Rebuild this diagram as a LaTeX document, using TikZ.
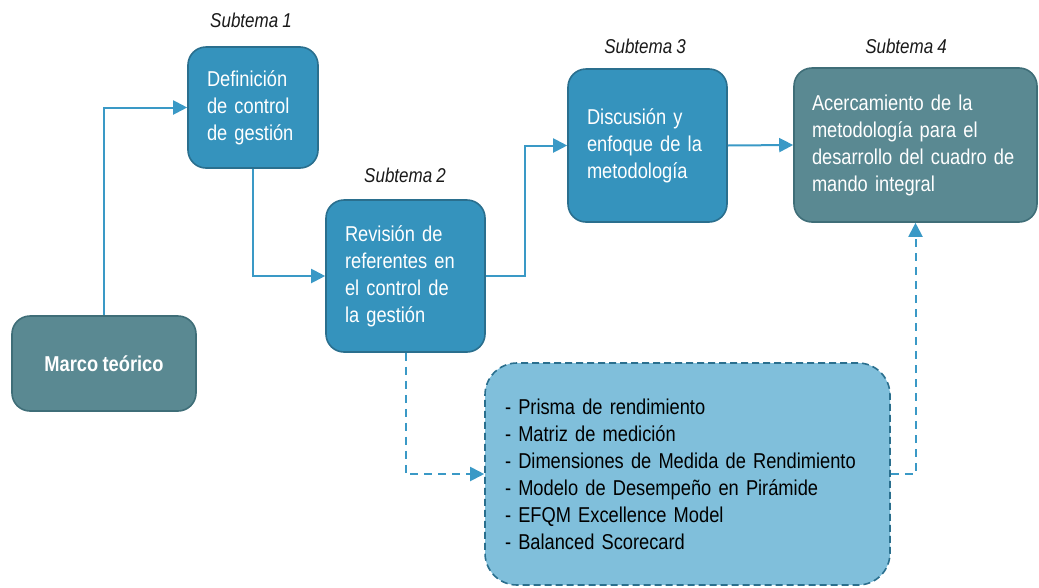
\documentclass[tikz,border=0pt]{standalone}
\usepackage{fontspec}
\setmainfont{Liberation Sans}[FakeStretch=0.85, WordSpace=0.85]
\usetikzlibrary{arrows.meta}
\definecolor{boxblue}{HTML}{3593BD}
\definecolor{boxteal}{HTML}{5A8992}
\definecolor{edgeblue}{HTML}{2A6F8E}
\definecolor{edgeteal}{HTML}{3F6E78}
\definecolor{lineblue}{HTML}{3A99C6}
\definecolor{listfill}{HTML}{80BFDB}
\tikzset{
  x=1pt, y=-1pt,
  txt/.style={font=\fontsize{21.5}{27}\selectfont},
  stage/.style={txt, draw=edgeblue, line width=1.6pt, fill=boxblue, text=white,
    rounded corners=18pt, align=left, inner xsep=19pt, inner ysep=0pt},
  result/.style={stage, draw=edgeteal, fill=boxteal},
  lbl/.style={txt, font=\fontsize{20}{24}\selectfont\itshape, text=black!90},
  link/.style={draw=lineblue, line width=2pt, -{Triangle[length=14pt,width=14pt]}},
  dlink/.style={link, dash pattern=on 8pt off 6pt},
}
\begin{document}
\begin{tikzpicture}
\useasboundingbox (0,0) rectangle (1039,587);

% theoretical frame
\node[result, align=center, font=\fontsize{21.5}{27}\selectfont\bfseries,
      minimum width=184pt, minimum height=95pt] (marco) at (104,363.5) {Marco teórico};

% the four subsystems
\node[stage, text width=92pt, minimum height=121pt] (def) at (253,107.5)
  {Definición\\de control\\de gestión};
\node[stage, text width=121pt, minimum height=152pt] (rev) at (405.5,276)
  {Revisión de\\referentes en\\el control de\\la gestión};
\node[stage, text width=121pt, minimum height=153pt] (disc) at (647.5,145.5)
  {Discusión y\\enfoque de la\\metodología};
\node[result, inner xsep=18pt, text width=207pt, minimum height=154pt] (acer) at (915.5,145)
  {Acercamiento de la\\metodología para el\\desarrollo del cuadro de\\mando integral};

% reviewed models
\node[txt, draw=edgeblue, line width=1.6pt, dash pattern=on 7pt off 4pt, fill=listfill,
      rounded corners=32pt, align=left, text=black, inner xsep=20pt, inner ysep=0pt,
      text width=365pt, minimum height=222pt] (list) at (687.5,474)
  {- Prisma de rendimiento\\- Matriz de medición\\- Dimensiones de Medida de Rendimiento\\- Modelo de Desempeño en Pirámide\\- EFQM Excellence Model\\- Balanced Scorecard};

% subsystem labels
\node[lbl] (s1) at (251,20) {Subtema 1};
\node[lbl] (s2) at (405,175) {Subtema 2};
\node[lbl] (s3) at (645,46) {Subtema 3};
\node[lbl] (s4) at (906,46) {Subtema 4};

% connectors
\draw[link] (marco.north) |- (def.west);
\draw[link] (def.south) |- (rev.west);
\coordinate (turn) at (525,276);
\draw[link] (rev.east) -- (turn) |- (disc.west);
\draw[link] (disc.east) -- (acer.west);
\draw[dlink] (rev.south) |- (list.west);
\draw[dlink] (list.east) -| (acer.south);
\end{tikzpicture}
\end{document}
